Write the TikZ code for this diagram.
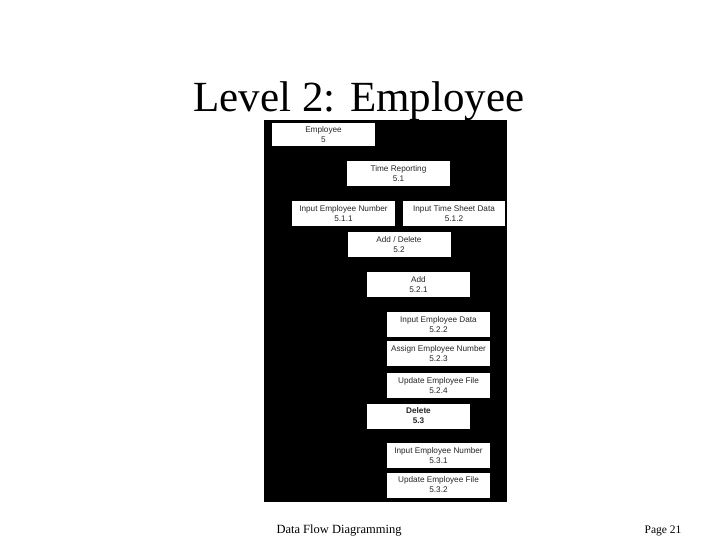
\documentclass[tikz,border=0pt]{standalone}
\usepackage{fontspec}
\setmainfont{Liberation Serif}
\setsansfont{Liberation Sans}
\usepackage{tikz}
\usetikzlibrary{positioning}

\begin{document}
\begin{tikzpicture}[x=1pt, y=-1pt,
      proc/.style={fill=white, minimum width=103pt, minimum height=25pt, inner sep=1pt, align=center, text=black!85, font=\sffamily\fontsize{8.2}{10}\selectfont},
      title/.style={anchor=base, font=\fontsize{43}{48}\selectfont},
      foot/.style={anchor=base, font=\fontsize{12.5}{14}\selectfont}
      ]
    \useasboundingbox (0,0) rectangle (720,540);

    % Title and panel
    \node[title] (title) at (359,112) {Level 2: Employee};
    \fill[black] (264,120) rectangle (507,502);

    % Nodes
    \node[proc, minimum height=23pt] (emp) at (323.5,134.5) {Employee\\5};
    \node[proc] (timerep) at (398.5,173.5) {Time Reporting\\5.1};
    \node[proc] (inempnum) at (343.5,214) {Input Employee Number\\5.1.1};
    \node[proc, minimum width=102pt] (intimesheet) at (454,214) {Input Time Sheet Data\\5.1.2};
    \node[proc] (adddel) at (399,244.5) {Add / Delete\\5.2};
    \node[proc] (add) at (418.5,284.5) {Add\\5.2.1};
    \node[proc] (inempdata) at (438.5,324.5) {Input Employee Data\\5.2.2};
    \node[proc] (assign) at (438.5,353.5) {Assign Employee Number\\5.2.3};
    \node[proc] (updfile) at (438.5,385.5) {Update Employee File\\5.2.4};
    \node[proc, font=\sffamily\bfseries\fontsize{8.2}{10}\selectfont] (delete) at (418.5,416) {Delete\\5.3};
    \node[proc] (delempnum) at (438.5,455.5) {Input Employee Number\\5.3.1};
    \node[proc] (delfile) at (438.5,485) {Update Employee File\\5.3.2};

    % Footer
    \node[foot] (footl) at (339,533) {Data Flow Diagramming};
    \node[foot, font=\fontsize{11.5}{14}\selectfont] (footr) at (663,533) {Page 21};

\end{tikzpicture}
\end{document}
